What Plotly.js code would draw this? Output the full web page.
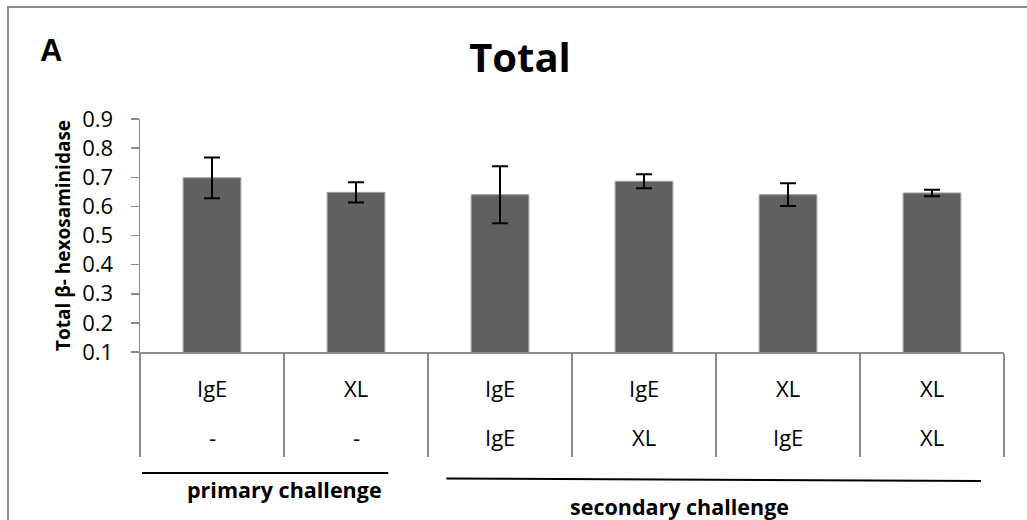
<!DOCTYPE html>
<html>
<head>
<meta charset="utf-8">
<script src="https://cdn.plot.ly/plotly-3.0.1.min.js"></script>
<style>
  html, body { margin: 0; padding: 0; background: #fff; overflow: hidden; }
  #chart { position: absolute; left: 0; top: 0; width: 1027px; height: 520px; }
  #frame { position: absolute; left: 7px; top: 6px; width: 1100px; height: 600px;
           border-left: 2px solid #8c8c8c; border-top: 2px solid #8c8c8c; pointer-events: none; }
</style>
</head>
<body>
<div id="chart"></div>
<div id="frame"></div>
<script>
// ---- data ----
const primaryRow = ['IgE', 'XL', 'IgE', 'IgE', 'XL', 'XL'];
const secondaryRow = ['-', '-', 'IgE', 'XL', 'IgE', 'XL'];
const values = [0.698, 0.648, 0.640, 0.686, 0.640, 0.646];
const errors = [0.070, 0.035, 0.098, 0.024, 0.039, 0.011];
const yTicks = [0.1, 0.2, 0.3, 0.4, 0.5, 0.6, 0.7, 0.8, 0.9];
const groupLabels = ['primary challenge', 'secondary challenge'];

const categories = primaryRow.map((p, i) => p + ' / ' + secondaryRow[i] + ' #' + i);

const FONT = 'Open Sans, Noto Sans, sans-serif';

const rowY1 = -0.1545, rowY2 = -0.365;

const annotations = [];
categories.forEach((c, i) => {
  annotations.push({x: c, xref: 'x', y: rowY1, yref: 'paper', text: primaryRow[i],
    showarrow: false, xanchor: 'center', yanchor: 'middle', font: {family: FONT, size: 22, color: '#000'}});
  annotations.push({x: c, xref: 'x', y: rowY2, yref: 'paper', text: secondaryRow[i],
    showarrow: false, xanchor: 'center', yanchor: 'middle', font: {family: FONT, size: 22, color: '#000'}});
});
annotations.push({x: (284.5 - 140) / 863, xref: 'paper', y: -0.592, yref: 'paper', text: '<b>' + groupLabels[0] + '</b>',
  showarrow: false, xanchor: 'center', yanchor: 'middle', font: {family: FONT, size: 21.5, color: '#000'}});
annotations.push({x: (679 - 140) / 863, xref: 'paper', y: -0.665, yref: 'paper', text: '<b>' + groupLabels[1] + '</b>',
  showarrow: false, xanchor: 'center', yanchor: 'middle', font: {family: FONT, size: 21.5, color: '#000'}});
annotations.push({x: (51 - 140) / 863, xref: 'paper', y: (352 - 50) / 233, yref: 'paper', text: '<b>A</b>',
  showarrow: false, xanchor: 'center', yanchor: 'middle', font: {family: 'Liberation Sans, Arial, sans-serif', size: 31, color: '#000'}});

const shapes = [
  {type: 'line', xref: 'paper', yref: 'paper', x0: (142 - 140) / 863, x1: (388 - 140) / 863,
   y0: (352 - 473) / 233, y1: (352 - 473) / 233, line: {color: '#000', width: 2}},
  {type: 'line', xref: 'paper', yref: 'paper', x0: (446 - 140) / 863, x1: (980 - 140) / 863,
   y0: (352 - 478.5) / 233, y1: (352 - 481) / 233, line: {color: '#000', width: 2}}
];

const trace = {
  type: 'bar',
  x: categories,
  y: values,
  base: 0,
  marker: {color: '#606060', line: {color: '#9a9a9a', width: 1}},
  error_y: {type: 'data', array: errors, visible: true, color: '#000', thickness: 2, width: 8},
  hoverinfo: 'skip'
};

const layout = {
  width: 1027, height: 520,
  margin: {l: 140, r: 23, t: 119, b: 168},
  paper_bgcolor: '#fff', plot_bgcolor: '#fff',
  showlegend: false,
  bargap: 0.6,
  title: {text: '<b>Total</b>', font: {family: FONT, size: 40, color: '#000'},
          x: 520 / 1027, xref: 'container', xanchor: 'center', y: 1 - 58 / 520, yref: 'container', yanchor: 'middle'},
  xaxis: {
    type: 'category', range: [-0.5, 5.5], fixedrange: true,
    showline: true, linecolor: '#8c8c8c', linewidth: 1.5,
    ticks: 'outside', tickson: 'boundaries', ticklen: 103, tickcolor: '#8c8c8c', tickwidth: 1.5,
    showticklabels: false, showgrid: false, zeroline: false
  },
  yaxis: {
    range: [0.1, 0.9], fixedrange: true,
    tickvals: yTicks, ticktext: yTicks.map(v => v.toFixed(1)),
    showline: true, linecolor: '#8c8c8c', linewidth: 1.5,
    ticks: 'outside', ticklen: 8, tickcolor: '#8c8c8c', tickwidth: 1.5,
    ticklabelstandoff: 13,
    tickfont: {family: FONT, size: 22, color: '#000'},
    showgrid: false, zeroline: false,
    title: {text: '<b>Total β- hexosaminidase</b>', font: {family: FONT, size: 19, color: '#000'}, standoff: 6}
  },
  annotations: annotations,
  shapes: shapes
};

Plotly.newPlot('chart', [trace], layout, {staticPlot: true, displayModeBar: false});
</script>
</body>
</html>
